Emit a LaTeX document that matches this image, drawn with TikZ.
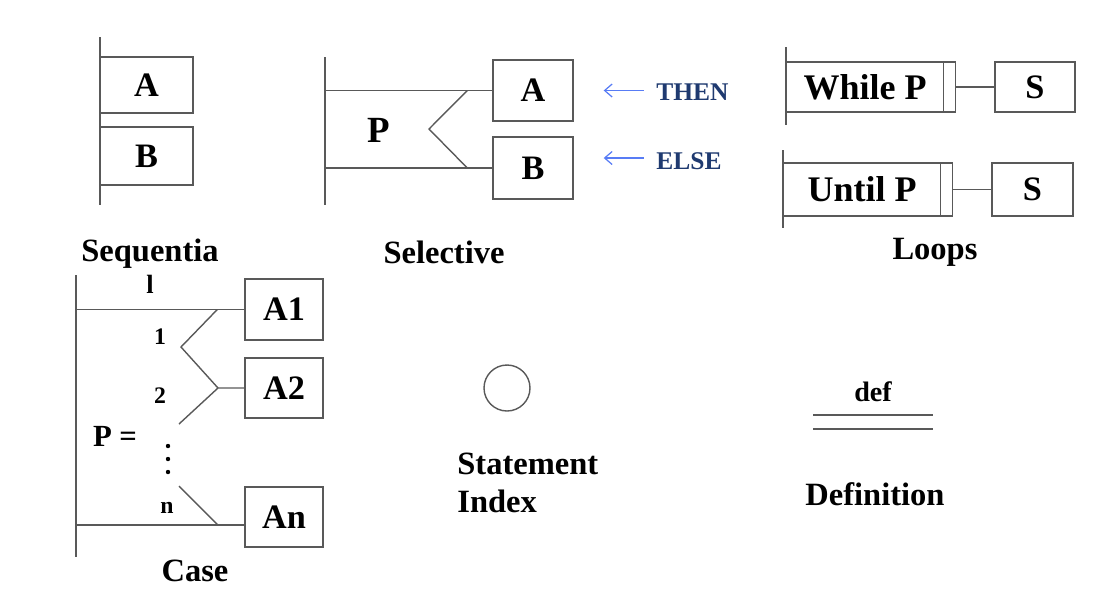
\documentclass[tikz,border=0pt]{standalone}
\usepackage{fontspec}
\setmainfont{Liberation Serif}
\usepackage{tikz}
\usetikzlibrary{arrows.meta,positioning,calc}
\definecolor{hintblue}{RGB}{31,58,112}
\definecolor{arrblue}{RGB}{88,124,245}

\begin{document}
\begin{tikzpicture}[x=0.02cm,y=-0.02cm,
  ln/.style={draw=black!65,line width=0.8pt},
  blk/.style={ln,fill=white,inner sep=0pt,font=\fontsize{19.5}{22}\selectfont\bfseries},
  lbl/.style={font=\fontsize{18.5}{22}\selectfont\bfseries,inner sep=0pt},
  num/.style={font=\fontsize{13.5}{15}\selectfont\bfseries,inner sep=0pt},
  hint/.style={font=\fontsize{14.5}{17}\selectfont\bfseries,text=hintblue,inner sep=0pt},
  harr/.style={-{Straight Barb[length=1.5mm,width=2.6mm]},draw=arrblue,line width=0.7pt}]
  \useasboundingbox (0,0) rectangle (1108,593);
  % sequential
  \draw[ln] (100,37) coordinate (sq0) -- (100,205) coordinate (sq1);
  \node[blk,minimum width=1.86cm,minimum height=1.12cm] (sqA) at (146.5,85) {A};
  \node[blk,minimum width=1.86cm,minimum height=1.16cm] (sqB) at (146.5,156) {B};
  \node[lbl,align=center] (sqlab) at (150,266) {Sequentia\\[-4pt]{\fontsize{15}{16}\selectfont l}};
  % selective
  \draw[ln] (325,57) coordinate (sl0) -- (325,205) coordinate (sl1);
  \node[blk,minimum width=1.6cm,minimum height=1.22cm] (slA) at (533,90.5) {A};
  \node[blk,minimum width=1.6cm,minimum height=1.24cm] (slB) at (533,168) {B};
  \coordinate (slk) at (429,129);
  \draw[ln] (slA.west -| sl0) -- (slA.west);
  \draw[ln] (slB.west -| sl0) -- (slB.west);
  \draw[ln] ($(slA.west)+(-25,0)$) -- (slk) -- ($(slB.west)+(-25,0)$);
  \node[font=\fontsize{21}{24}\selectfont\bfseries] (slP) at (379,130) {P};
  \node[hint,anchor=west] (thn) at (656,92) {THEN};
  \node[hint,anchor=west] (els) at (656,161) {ELSE};
  \draw[harr] ([xshift=-7pt]thn.west |- slA.west) -- ++(-40,0);
  \draw[harr] ([xshift=-7pt]els.west |- 0,158) -- ++(-40,0);
  \node[lbl] (sllab) at (444,252) {Selective};
  % loops
  \draw[ln] (786,47) coordinate (wh0) -- (786,125) coordinate (wh1);
  \node[blk,font=\fontsize{20.5}{24}\selectfont\bfseries,minimum width=3.14cm,minimum height=1.0cm,anchor=west] (whP) at (786,87) {While P};
  \node[blk,minimum width=0.24cm,minimum height=1.0cm,right=-0.8pt of whP] (whE) {};
  \node[blk,minimum width=1.6cm,minimum height=1.0cm] (whS) at (1035,87) {S};
  \draw[ln] (whE) -- (whS);
  \draw[ln] (783,150) coordinate (un0) -- (783,228) coordinate (un1);
  \node[blk,font=\fontsize{20.5}{24}\selectfont\bfseries,minimum width=3.14cm,minimum height=1.06cm,anchor=west] (unP) at (783,189.5) {Until P};
  \node[blk,minimum width=0.24cm,minimum height=1.06cm,right=-0.8pt of unP] (unE) {};
  \node[blk,minimum width=1.62cm,minimum height=1.06cm] (unS) at (1032.5,189.5) {S};
  \draw[ln] (unE) -- (unS);
  \node[lbl] (lplab) at (935,252) {Loops};
  % case
  \draw[ln] (76,275) coordinate (cs0) -- (76,557) coordinate (cs1);
  \node[blk,minimum width=1.56cm,minimum height=1.22cm] (csA1) at (284,309.5) {A1};
  \node[blk,minimum width=1.56cm,minimum height=1.2cm] (csA2) at (284,388) {A2};
  \node[blk,minimum width=1.56cm,minimum height=1.2cm] (csAn) at (284,517) {An};
  \coordinate (csk1) at (181,347);
  \coordinate (csj2) at (218,388);
  \coordinate (csjn) at (218,525);
  \draw[ln] (csA1.west -| cs0) -- (csA1.west);
  \draw[ln] ($(csA1.west)+(-27,0)$) -- (csk1) -- (csj2) -- (csA2.west);
  \draw[ln] (csj2) -- (179,424);
  \draw[ln] (179,486) -- (csjn);
  \draw[ln] (csjn -| cs0) -- (csjn -| csAn.west);
  \node[num] (cs1a) at (160,337) {1};
  \node[num] (cs2) at (160,396) {2};
  \node[num] (csn) at (167,508) {n};
  \node[font=\fontsize{17.5}{20}\selectfont\bfseries,inner sep=0pt] (csP) at (115,436) {P =};
  \foreach \y in {446,459,472} \fill[black] (168,\y) circle (2.2);
  \node[lbl] (cslab) at (195,571) {Case};
  % statement index
  \node[ln,circle,minimum size=0.92cm] (sti) at (507,388) {};
  \node[lbl,align=left,anchor=west,font=\fontsize{18.5}{21.5}\selectfont\bfseries] (stilab) at (457,483) {Statement\\Index};
  % definition
  \node[font=\fontsize{16}{19}\selectfont\bfseries,inner sep=0pt] (df) at (873,392) {def};
  \draw[ln] (813,415) -- (933,415);
  \draw[ln] (813,429) -- (933,429);
  \node[lbl] (dflab) at (875,494) {Definition};
\end{tikzpicture}
\end{document}
